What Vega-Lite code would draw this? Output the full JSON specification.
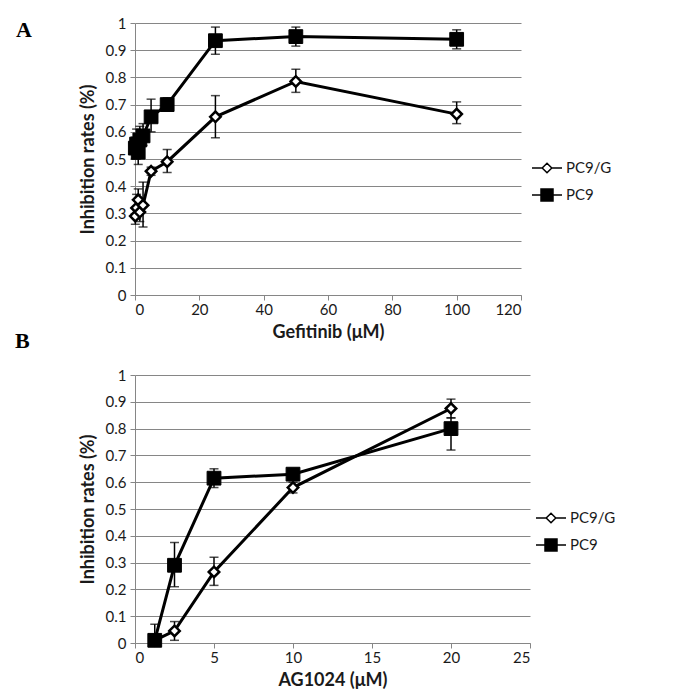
{
  "$schema": "https://vega.github.io/schema/vega-lite/v6.json",
  "background": "white",
  "padding": {"left": 15, "top": 16, "right": 5, "bottom": 2},
  "config": {
    "font": "Lato",
    "view": {"stroke": null},
    "axis": {"labelFont": "Lato", "labelFontSize": 15, "labelColor": "#1a1a1a", "titleFont": "Lato", "titleFontSize": 18, "titleFontWeight": "bold", "titleColor": "#1a1a1a", "domainColor": "#868686", "domainWidth": 1, "tickColor": "#868686", "tickSize": 5, "gridColor": "#868686", "gridWidth": 1},
    "axisX": {"grid": false, "labelPadding": 2, "titlePadding": 6},
    "axisY": {"grid": true, "labelPadding": 4, "titlePadding": 8},
    "title": {"font": "Liberation Serif", "fontSize": 22, "fontWeight": "bold", "color": "#000", "anchor": "start", "frame": "group", "offset": 0}
  },
  "datasets": {
    "a": [
      {"series": "PC9/G", "x": 0.1, "y": 0.29, "lo": 0.26, "hi": 0.32},
      {"series": "PC9/G", "x": 0.5, "y": 0.32, "lo": 0.28, "hi": 0.37},
      {"series": "PC9/G", "x": 1, "y": 0.35, "lo": 0.31, "hi": 0.39},
      {"series": "PC9/G", "x": 1.5, "y": 0.305, "lo": 0.27, "hi": 0.34},
      {"series": "PC9/G", "x": 2.5, "y": 0.33, "lo": 0.25, "hi": 0.415},
      {"series": "PC9/G", "x": 5, "y": 0.455, "lo": 0.44, "hi": 0.47},
      {"series": "PC9/G", "x": 10, "y": 0.49, "lo": 0.45, "hi": 0.535},
      {"series": "PC9/G", "x": 25, "y": 0.655, "lo": 0.578, "hi": 0.733},
      {"series": "PC9/G", "x": 50, "y": 0.785, "lo": 0.745, "hi": 0.83},
      {"series": "PC9/G", "x": 100, "y": 0.665, "lo": 0.63, "hi": 0.71},
      {"series": "PC9", "x": 0.1, "y": 0.54, "lo": 0.5, "hi": 0.58},
      {"series": "PC9", "x": 0.5, "y": 0.555, "lo": 0.5, "hi": 0.61},
      {"series": "PC9", "x": 1, "y": 0.525, "lo": 0.48, "hi": 0.57},
      {"series": "PC9", "x": 1.5, "y": 0.57, "lo": 0.52, "hi": 0.62},
      {"series": "PC9", "x": 2.5, "y": 0.585, "lo": 0.55, "hi": 0.63},
      {"series": "PC9", "x": 5, "y": 0.655, "lo": 0.6, "hi": 0.72},
      {"series": "PC9", "x": 10, "y": 0.7, "lo": 0.68, "hi": 0.725},
      {"series": "PC9", "x": 25, "y": 0.935, "lo": 0.885, "hi": 0.985},
      {"series": "PC9", "x": 50, "y": 0.95, "lo": 0.915, "hi": 0.985},
      {"series": "PC9", "x": 100, "y": 0.94, "lo": 0.905, "hi": 0.975}
    ],
    "b": [
      {"series": "PC9/G", "x": 1.25, "y": 0.01, "lo": 0.0, "hi": 0.02},
      {"series": "PC9/G", "x": 2.5, "y": 0.045, "lo": 0.01, "hi": 0.08},
      {"series": "PC9/G", "x": 5, "y": 0.265, "lo": 0.215, "hi": 0.32},
      {"series": "PC9/G", "x": 10, "y": 0.58, "lo": 0.56, "hi": 0.6},
      {"series": "PC9/G", "x": 20, "y": 0.875, "lo": 0.84, "hi": 0.91},
      {"series": "PC9", "x": 1.25, "y": 0.01, "lo": 0.0, "hi": 0.07},
      {"series": "PC9", "x": 2.5, "y": 0.29, "lo": 0.21, "hi": 0.375},
      {"series": "PC9", "x": 5, "y": 0.615, "lo": 0.58, "hi": 0.65},
      {"series": "PC9", "x": 10, "y": 0.63, "lo": 0.61, "hi": 0.65},
      {"series": "PC9", "x": 20, "y": 0.8, "lo": 0.72, "hi": 0.84}
    ]
  },
  "bounds": "flush",
  "spacing": 80,
  "resolve": {"scale": {"shape": "independent", "fill": "independent"}, "legend": {"shape": "independent", "fill": "independent"}},
  "vconcat": [
    {
      "width": 386,
      "height": 272,
      "title": {"text": "A", "dx": -119, "dy": 47, "baseline": "alphabetic"},
      "data": {"name": "a"},
      "encoding": {
        "x": {"field": "x", "type": "quantitative", "title": "Gefitinib (μM)", "scale": {"domain": [0, 120], "nice": false}, "axis": {"values": [0, 20, 40, 60, 80, 100, 120]}},
        "y": {"field": "y", "type": "quantitative", "title": "Inhibition rates (%)", "scale": {"domain": [0, 1], "nice": false}, "axis": {"values": [0, 0.1, 0.2, 0.3, 0.4, 0.5, 0.6, 0.7, 0.8, 0.9, 1], "format": ".1~f"}}
      },
      "layer": [
        {
          "mark": {"type": "errorbar", "color": "black", "thickness": 1.5, "ticks": {"size": 9, "thickness": 1.5, "color": "black"}},
          "encoding": {
            "y": {"field": "lo", "type": "quantitative", "title": "Inhibition rates (%)"},
            "y2": {"field": "hi"}
          }
        },
        {
          "mark": {"type": "line", "color": "black", "strokeWidth": 3},
          "encoding": {"detail": {"field": "series"}}
        },
        {
          "transform": [{"filter": "datum.series === 'PC9/G'"}],
          "mark": {"type": "point", "shape": "diamond", "filled": true, "fill": "white", "stroke": "black", "strokeWidth": 2.5, "size": 110, "opacity": 1}
        },
        {
          "transform": [{"filter": "datum.series === 'PC9'"}],
          "mark": {"type": "point", "shape": "square", "filled": true, "fill": "black", "stroke": "black", "strokeWidth": 1, "size": 190, "opacity": 1}
        },
        {
          "transform": [{"filter": "datum.x < -1000"}],
          "mark": {"type": "point", "filled": true, "stroke": "black", "strokeWidth": 2.5, "opacity": 1},
          "encoding": {
            "shape": {"field": "series", "type": "nominal", "scale": {"domain": ["PC9/G", "PC9"], "range": ["M-1,0H-0.32M0.32,0H1M0,-0.32L0.32,0L0,0.32L-0.32,0Z", "M-1,0H1M-0.4,-0.4H0.4V0.4H-0.4Z"]}, "legend": {"orient": "none", "legendX": 396, "legendY": 129, "title": null, "symbolSize": 900, "labelFont": "Lato", "labelFontSize": 15, "labelColor": "#1a1a1a", "rowPadding": 3, "labelOffset": 3, "padding": 0, "encode": {"symbols": {"update": {"stroke": {"value": "black"}, "strokeWidth": {"value": 2.5}, "opacity": {"value": 1}}}}}},
            "fill": {"field": "series", "type": "nominal", "scale": {"domain": ["PC9/G", "PC9"], "range": ["white", "black"]}, "legend": {"orient": "none", "legendX": 396, "legendY": 129, "title": null, "symbolSize": 900, "labelFont": "Lato", "labelFontSize": 15, "labelColor": "#1a1a1a", "rowPadding": 3, "labelOffset": 3, "padding": 0, "encode": {"symbols": {"update": {"stroke": {"value": "black"}, "strokeWidth": {"value": 2.5}, "opacity": {"value": 1}}}}}}
          }
        }
      ]
    },
    {
      "width": 395,
      "height": 268,
      "title": {"text": "B", "dx": -120, "dy": 6, "baseline": "alphabetic"},
      "data": {"name": "b"},
      "encoding": {
        "x": {"field": "x", "type": "quantitative", "title": "AG1024 (μM)", "scale": {"domain": [0, 25], "nice": false}, "axis": {"values": [0, 5, 10, 15, 20, 25]}},
        "y": {"field": "y", "type": "quantitative", "title": "Inhibition rates (%)", "scale": {"domain": [0, 1], "nice": false}, "axis": {"values": [0, 0.1, 0.2, 0.3, 0.4, 0.5, 0.6, 0.7, 0.8, 0.9, 1], "format": ".1~f"}}
      },
      "layer": [
        {
          "mark": {"type": "errorbar", "color": "black", "thickness": 1.5, "ticks": {"size": 9, "thickness": 1.5, "color": "black"}},
          "encoding": {
            "y": {"field": "lo", "type": "quantitative", "title": "Inhibition rates (%)"},
            "y2": {"field": "hi"}
          }
        },
        {
          "mark": {"type": "line", "color": "black", "strokeWidth": 3},
          "encoding": {"detail": {"field": "series"}}
        },
        {
          "transform": [{"filter": "datum.series === 'PC9/G'"}],
          "mark": {"type": "point", "shape": "diamond", "filled": true, "fill": "white", "stroke": "black", "strokeWidth": 2.5, "size": 110, "opacity": 1}
        },
        {
          "transform": [{"filter": "datum.series === 'PC9'"}],
          "mark": {"type": "point", "shape": "square", "filled": true, "fill": "black", "stroke": "black", "strokeWidth": 1, "size": 190, "opacity": 1}
        },
        {
          "transform": [{"filter": "datum.x < -1000"}],
          "mark": {"type": "point", "filled": true, "stroke": "black", "strokeWidth": 2.5, "opacity": 1},
          "encoding": {
            "shape": {"field": "series", "type": "nominal", "scale": {"domain": ["PC9/G", "PC9"], "range": ["M-1,0H-0.32M0.32,0H1M0,-0.32L0.32,0L0,0.32L-0.32,0Z", "M-1,0H1M-0.4,-0.4H0.4V0.4H-0.4Z"]}, "legend": {"orient": "none", "legendX": 400, "legendY": 127, "title": null, "symbolSize": 900, "labelFont": "Lato", "labelFontSize": 15, "labelColor": "#1a1a1a", "rowPadding": 3, "labelOffset": 3, "padding": 0, "encode": {"symbols": {"update": {"stroke": {"value": "black"}, "strokeWidth": {"value": 2.5}, "opacity": {"value": 1}}}}}},
            "fill": {"field": "series", "type": "nominal", "scale": {"domain": ["PC9/G", "PC9"], "range": ["white", "black"]}, "legend": {"orient": "none", "legendX": 400, "legendY": 127, "title": null, "symbolSize": 900, "labelFont": "Lato", "labelFontSize": 15, "labelColor": "#1a1a1a", "rowPadding": 3, "labelOffset": 3, "padding": 0, "encode": {"symbols": {"update": {"stroke": {"value": "black"}, "strokeWidth": {"value": 2.5}, "opacity": {"value": 1}}}}}}
          }
        }
      ]
    }
  ]
}
